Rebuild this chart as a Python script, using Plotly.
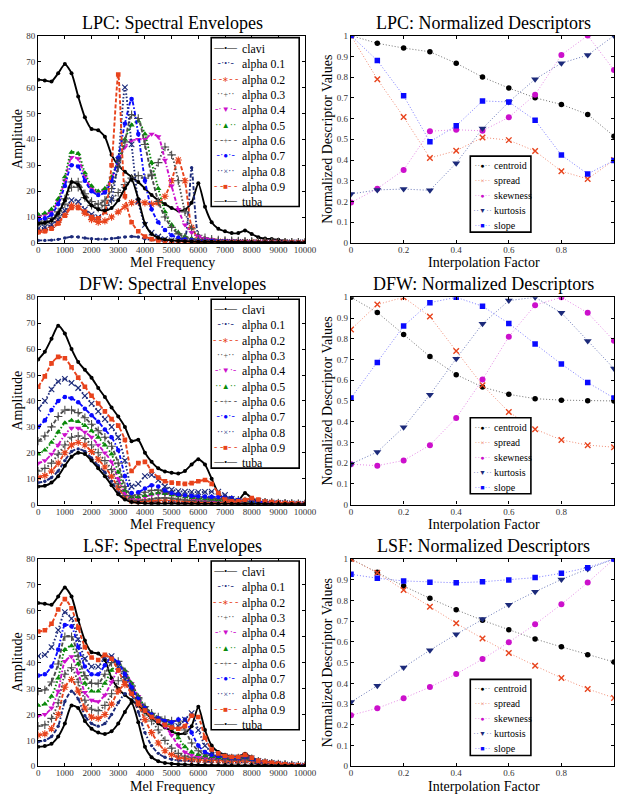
import plotly.graph_objects as go

# ---------------- data ----------------
MEL = [0, 250, 500, 750, 1000, 1250, 1500, 1750, 2000, 2250,
       2500, 2750, 3000, 3250, 3500, 3750, 4000, 4250, 4500, 4750,
       5000, 5250, 5500, 5750, 6000, 6250, 6500, 6750, 7000, 7250,
       7500, 7750, 8000, 8250, 8500, 8750, 9000, 9250, 9500, 9750, 10000]

ENV_LABELS = ["clavi", "alpha 0.1", "alpha 0.2", "alpha 0.3", "alpha 0.4", "alpha 0.5",
              "alpha 0.6", "alpha 0.7", "alpha 0.8", "alpha 0.9", "tuba"]

# clavi / tuba envelopes (LPC and LSF)
CLAVI = [63, 62.7, 62.3, 65.5, 69, 65.5, 56.5, 48.5, 44, 43.5,
         41, 34, 30, 27.5, 25.5, 23.5, 21, 18.5, 16.5, 15,
         13.5, 12.5, 12.8, 15.5, 23, 14, 8, 5.5, 4.5, 3.8,
         3.8, 4.8, 3.5, 2.2, 1.7, 1.5, 1.2, 0.8, 0.5, 0.3, 0.2]
TUBA = [7.5, 7.8, 8.7, 11.5, 16.5, 23.5, 22.5, 17.5, 14.5, 13,
        12.5, 13.5, 16.5, 21, 24.5, 17, 7.5, 3.5, 2, 1.3,
        1, 0.8, 0.7, 0.6, 0.5, 0.5, 0.45, 0.4, 0.4, 0.35,
        0.35, 0.35, 0.3, 0.3, 0.3, 0.25, 0.25, 0.2, 0.2, 0.2, 0.2]

# LPC interpolations
LPC_A01 = [1, 1, 1.1, 1.4, 1.9, 2.4, 2.3, 1.9, 1.6, 1.5,
           1.5, 1.7, 2.0, 2.3, 2.5, 2.3, 1.6, 1.2, 1.0, 0.9,
           0.8, 0.8, 2.0, 29, 3.0, 1.2, 0.8, 0.6, 0.5, 0.5,
           0.5, 0.5, 0.4, 0.4, 0.4, 0.3, 0.3, 0.3, 0.3, 0.2, 0.2]
LPC_A02 = [4.5, 5, 6, 8, 11, 14.5, 14, 11.5, 9, 8,
           8.5, 10, 12, 14, 15.5, 15.8, 15.5, 15, 15.5, 18,
           24, 32, 24, 6, 2, 1.2, 0.9, 0.7, 0.6, 0.5,
           0.5, 0.45, 0.4, 0.4, 0.35, 0.3, 0.3, 0.3, 0.25, 0.2, 0.2]
LPC_A03 = [7, 7.3, 8.2, 10.5, 15, 21.5, 21.5, 17.5, 14.5, 13.5,
           14.5, 16.5, 19.5, 22.5, 25, 26, 25, 26.5, 31, 37,
           34, 24, 12, 5.5, 3, 2, 1.5, 1.2, 1, 0.9,
           0.8, 0.7, 0.6, 0.5, 0.5, 0.4, 0.4, 0.3, 0.3, 0.25, 0.2]
LPC_A04 = [10.3, 10.8, 12.3, 16, 24, 33, 32.5, 25.5, 21, 19.5,
           20.5, 25, 31.5, 37, 39.5, 40, 40, 42, 41, 32,
           22, 13, 7, 4, 2.5, 1.7, 1.3, 1, 0.9, 0.8,
           0.7, 0.6, 0.5, 0.5, 0.4, 0.4, 0.3, 0.3, 0.3, 0.25, 0.2]
LPC_A05 = [11, 11.5, 13, 17, 25.5, 35, 34.5, 27, 22, 20,
           21, 25.5, 32, 40, 45.5, 47, 42, 31, 21, 12,
           7, 4, 2.5, 1.7, 1.2, 1, 0.8, 0.7, 0.6, 0.5,
           0.5, 0.4, 0.4, 0.35, 0.3, 0.3, 0.3, 0.25, 0.25, 0.2, 0.2]
LPC_A06 = [8, 8.5, 9.5, 12, 17, 23.5, 23.5, 19, 16, 15,
           16.5, 21, 29, 39, 49.5, 48, 38, 26, 16, 10,
           6, 3.5, 2.2, 1.6, 1.2, 1, 0.8, 0.7, 0.6, 0.5,
           0.5, 0.4, 0.4, 0.35, 0.3, 0.3, 0.3, 0.25, 0.25, 0.2, 0.2]
LPC_A07 = [9, 9.5, 11, 15, 22, 30, 29.5, 24, 20, 18.5,
           19.5, 24, 33, 46, 55.5, 42, 24, 13, 8, 5,
           3, 2, 1.3, 1, 0.8, 0.7, 0.6, 0.5, 0.5, 0.4,
           0.4, 0.35, 0.3, 0.3, 0.3, 0.25, 0.25, 0.2, 0.2, 0.2, 0.2]
LPC_A08 = [5.5, 6, 7, 9, 12.5, 16.5, 16, 13, 11, 10,
           12, 17, 32, 60, 38, 16, 7, 4, 2.5, 1.5,
           1, 0.8, 0.6, 0.5, 0.5, 0.4, 0.4, 0.35, 0.3, 0.3,
           0.3, 0.3, 0.25, 0.25, 0.25, 0.2, 0.2, 0.2, 0.2, 0.2, 0.2]
LPC_A09 = [4.2, 4.5, 5.5, 7.5, 10.5, 13.5, 13.5, 12, 10, 9.5,
           12, 30, 65, 18, 8, 4.5, 2.5, 1.5, 1, 0.8,
           0.6, 0.5, 0.5, 0.4, 0.4, 0.35, 0.3, 0.3, 0.3, 0.25,
           0.25, 0.25, 0.2, 0.2, 0.2, 0.2, 0.2, 0.2, 0.2, 0.2, 0.2]

# DFW interpolations
DFW_CLAVI = [56, 59, 64, 69, 66, 60, 55, 52, 49, 45,
             41.5, 37.5, 34, 30, 24.5, 25, 20, 16.5, 14, 12.8,
             12.3, 12, 13, 15.5, 17.5, 15.5, 10, 4.5, 2, 1.2,
             1.5, 4.5, 2.5, 1.2, 1, 0.9, 0.7, 0.55, 0.4, 0.3, 0.2]
DFW_TUBA = [7, 7.3, 8.5, 11, 15, 18.5, 20, 19.5, 17, 14,
            11, 7.5, 4, 2, 1, 0.7, 0.5, 0.45, 0.4, 0.4,
            0.4, 0.35, 0.35, 0.35, 0.3, 0.3, 0.3, 0.3, 0.3, 0.3,
            0.25, 0.25, 0.25, 0.25, 0.25, 0.2, 0.2, 0.2, 0.2, 0.2, 0.2]
DFW_A01 = [8.5, 9, 10.5, 13, 17, 20.5, 21.5, 20.5, 18, 15,
           12.5, 9, 5, 2.5, 1.3, 1, 1, 1.1, 1.2, 1.1,
           1, 0.9, 0.8, 0.75, 0.7, 0.65, 0.6, 0.6, 0.6, 0.55,
           0.55, 0.5, 0.5, 0.45, 0.45, 0.4, 0.4, 0.35, 0.3, 0.25, 0.2]
DFW_A02 = [10.5, 11.2, 13, 16, 20, 23, 24, 23, 20.5, 17.5,
           14.5, 11, 6.5, 3, 1.5, 1.2, 1.3, 1.5, 1.6, 1.7,
           1.6, 1.4, 1.2, 1.1, 1, 0.95, 0.9, 0.85, 0.8, 0.75,
           0.7, 0.7, 0.65, 0.6, 0.55, 0.5, 0.45, 0.4, 0.35, 0.3, 0.2]
DFW_A03 = [13, 14, 16, 19.5, 23, 26, 26.5, 25.5, 23, 20,
           17, 13.5, 8, 3.5, 1.8, 1.6, 1.8, 2.2, 2.5, 2.6,
           2.4, 2.1, 1.8, 1.6, 1.4, 1.3, 1.25, 1.2, 1.2, 1.15,
           1.1, 1, 0.9, 0.85, 0.8, 0.7, 0.6, 0.5, 0.4, 0.3, 0.25]
DFW_A04 = [16, 17, 19.5, 23, 27, 29.5, 29.5, 28, 26, 23,
           20, 16.5, 10, 4.5, 2.5, 2.5, 3, 3.8, 4.2, 4.3,
           4, 3.5, 3, 2.5, 2, 1.8, 1.6, 1.5, 1.4, 1.35,
           1.3, 1.2, 1.1, 1, 0.9, 0.8, 0.7, 0.55, 0.45, 0.35, 0.3]
DFW_A05 = [19.5, 21, 24, 28, 31.5, 32.5, 32, 30.5, 28.5, 26,
           23, 19.5, 12.5, 5.5, 3, 3, 3.5, 4.2, 4.5, 4.3,
           3.8, 3.4, 3, 2.7, 2.5, 2.2, 2, 1.8, 1.7, 1.6,
           1.5, 1.3, 1.1, 1, 0.9, 0.8, 0.7, 0.55, 0.45, 0.35, 0.3]
DFW_A06 = [24.5, 26.5, 30, 34, 36.5, 36.5, 35.5, 33.5, 31, 28.5,
           26, 22.5, 16, 7, 3.5, 3.8, 4.8, 5.5, 5.6, 5,
           4.2, 3.8, 3.5, 3.2, 3, 2.8, 2.5, 2.3, 2.2, 2,
           1.7, 1.4, 1.2, 1, 0.9, 0.8, 0.7, 0.55, 0.45, 0.35, 0.3]
DFW_A07 = [30, 32.5, 36.5, 40, 41.5, 41, 39.5, 37, 34.5, 32,
           29, 26, 21, 11, 4.5, 4.8, 6.2, 7.5, 7, 5.5,
           4.5, 4, 3.6, 3.4, 3.2, 3.1, 3, 3, 3, 2.5,
           1.8, 1.4, 1.2, 1.1, 1, 0.8, 0.7, 0.55, 0.45, 0.35, 0.3]
DFW_A08 = [37, 40, 44.5, 47.5, 48.5, 47, 45, 42, 39, 36,
           33, 30, 26, 17, 7, 8, 11, 11.5, 9.5, 7,
           5.8, 5.2, 5, 4.9, 4.8, 4.9, 5, 5, 3.8, 2.2,
           1.5, 1.2, 1.2, 1.4, 1, 0.8, 0.7, 0.55, 0.45, 0.35, 0.3]
DFW_A09 = [45.5, 49.5, 54.5, 57, 56.5, 53, 49, 45.5, 42, 39,
           36, 33, 30.5, 25, 13, 16, 16.5, 13, 10.5, 9,
           8.5, 8.2, 8, 8.3, 9, 9.5, 8, 4.5, 2, 1.3,
           1.3, 1.8, 2.5, 2, 1.2, 1, 0.8, 0.6, 0.5, 0.4, 0.3]

# LSF interpolations
LSF_A01 = [9.5, 10, 11.5, 15.5, 25, 29, 26, 19.5, 16.5, 15.5,
           16.5, 20, 24.5, 28, 27.5, 21, 13, 8, 5, 3.5,
           2.7, 2.3, 2.1, 2, 1.9, 1.8, 1.7, 1.6, 1.5, 1.5,
           1.5, 1.6, 1.4, 1.2, 1, 0.8, 0.6, 0.5, 0.35, 0.25, 0.2]
LSF_A02 = [12, 12.5, 14.5, 20, 30.5, 33.5, 29, 22.5, 19, 18.5,
           20, 24, 29, 31.5, 29.5, 24, 18, 13, 9, 6,
           4.5, 3.5, 3, 2.7, 2.5, 2.4, 2.3, 2.2, 2.1, 2,
           2, 2.2, 1.9, 1.5, 1.2, 0.9, 0.7, 0.55, 0.4, 0.3, 0.2]
LSF_A03 = [15.5, 16, 18.5, 24.5, 35.5, 38, 32.5, 25.5, 22, 21.5,
           23.5, 28, 33, 34.5, 31, 26, 21, 17.5, 14, 10,
           7, 5, 4, 3.5, 3.2, 3, 2.8, 2.7, 2.6, 2.5,
           2.5, 2.7, 2.3, 1.7, 1.3, 1, 0.8, 0.6, 0.45, 0.3, 0.25]
LSF_A04 = [19.5, 20, 22.5, 29, 40.5, 42.3, 36, 28.5, 25.5, 25,
           27.5, 32.5, 37, 36.5, 32, 27, 22.5, 19.5, 17.5, 15.5,
           12, 8, 5.5, 4.3, 3.8, 3.5, 3.3, 3.1, 2.9, 2.8,
           2.8, 3, 2.5, 1.8, 1.3, 1.1, 0.9, 0.7, 0.5, 0.35, 0.25]
LSF_A05 = [23.5, 24, 27, 34, 45, 46.5, 39.5, 32, 29, 29,
           32, 37, 39.5, 37, 32, 27, 23, 20.5, 18.5, 17.5,
           15, 11, 7.5, 5.5, 4.5, 4, 3.7, 3.4, 3.2, 3,
           3, 3.3, 2.7, 1.9, 1.4, 1.1, 0.9, 0.7, 0.5, 0.35, 0.25]
LSF_A06 = [29, 29.5, 32.5, 39.5, 50, 50, 42.5, 35, 32, 32,
           35.5, 40, 40.5, 36.5, 31, 26.5, 23, 20.5, 19, 18,
           17.5, 17.5, 14, 9, 6, 4.8, 4.2, 3.8, 3.4, 3.2,
           3.2, 3.6, 2.9, 2, 1.5, 1.2, 0.9, 0.7, 0.5, 0.35, 0.25]
LSF_A07 = [35, 35.5, 38.5, 45, 54.5, 54, 46, 38.5, 35.5, 35.5,
           39, 42, 40, 35.5, 30.5, 26, 22.5, 20, 18.5, 17.5,
           17, 18, 18, 13, 8, 5.5, 4.5, 4, 3.6, 3.3,
           3.3, 3.8, 3, 2, 1.5, 1.2, 1, 0.7, 0.5, 0.35, 0.25]
LSF_A08 = [42.5, 43, 46, 52.5, 59.5, 57, 49, 41.5, 38.5, 38.5,
           42, 42.5, 38.5, 33.5, 29, 25, 22, 19.5, 18, 16.5,
           15.5, 15.5, 18, 20.5, 14, 8, 5.5, 4.5, 3.8, 3.4,
           3.4, 4, 3.1, 2.1, 1.6, 1.3, 1, 0.7, 0.5, 0.35, 0.25]
LSF_A09 = [52, 52.5, 55, 60.5, 64.5, 61, 53.5, 46, 42, 41,
           43, 41.5, 37, 32, 28, 24.5, 21.5, 19, 17.5, 16,
           15, 14.5, 15.5, 19.5, 19, 11, 6.5, 5, 4, 3.6,
           3.6, 4.4, 3.3, 2.2, 1.7, 1.4, 1.1, 0.8, 0.5, 0.35, 0.25]

# normalized descriptors
FACTOR = [0, 0.1, 0.2, 0.3, 0.4, 0.5, 0.6, 0.7, 0.8, 0.9, 1.0]
DESC_LABELS = ["centroid", "spread", "skewness", "kurtosis", "slope"]

LPC_CENTROID = [1.0, 0.963, 0.94, 0.922, 0.867, 0.80, 0.747, 0.70, 0.668, 0.62, 0.515]
LPC_SPREAD = [1.0, 0.79, 0.608, 0.41, 0.445, 0.509, 0.496, 0.443, 0.346, 0.309, 0.40]
LPC_SKEWNESS = [0.195, 0.262, 0.352, 0.539, 0.546, 0.541, 0.606, 0.715, 0.907, 1.0, 0.834]
LPC_KURTOSIS = [0.236, 0.256, 0.26, 0.254, 0.385, 0.552, 0.68, 0.79, 0.867, 0.906, 1.0]
LPC_SLOPE = [1.0, 0.88, 0.71, 0.488, 0.565, 0.685, 0.68, 0.592, 0.424, 0.333, 0.398]

DFW_CENTROID = [1.0, 0.927, 0.821, 0.714, 0.627, 0.567, 0.532, 0.511, 0.504, 0.501, 0.50]
DFW_SPREAD = [0.845, 0.965, 1.0, 0.907, 0.741, 0.576, 0.447, 0.364, 0.312, 0.287, 0.277]
DFW_SKEWNESS = [0.195, 0.188, 0.213, 0.287, 0.418, 0.603, 0.81, 0.962, 1.0, 0.925, 0.79]
DFW_KURTOSIS = [0.196, 0.254, 0.373, 0.53, 0.704, 0.872, 0.984, 1.0, 0.925, 0.789, 0.656]
DFW_SLOPE = [0.514, 0.686, 0.861, 0.974, 1.0, 0.957, 0.874, 0.775, 0.678, 0.589, 0.514]

LSF_CENTROID = [1.0, 0.936, 0.869, 0.81, 0.755, 0.704, 0.658, 0.614, 0.576, 0.538, 0.503]
LSF_SPREAD = [1.0, 0.933, 0.85, 0.77, 0.69, 0.616, 0.547, 0.485, 0.426, 0.373, 0.33]
LSF_SKEWNESS = [0.246, 0.28, 0.328, 0.382, 0.445, 0.517, 0.598, 0.685, 0.781, 0.886, 1.0]
LSF_KURTOSIS = [0.31, 0.389, 0.477, 0.56, 0.637, 0.71, 0.779, 0.842, 0.901, 0.952, 1.0]
LSF_SLOPE = [0.926, 0.907, 0.894, 0.888, 0.885, 0.89, 0.899, 0.91, 0.931, 0.958, 1.0]

ENV_TICKS_X = [0, 1000, 2000, 3000, 4000, 5000, 6000, 7000, 8000, 9000, 10000]
ENV_TICKS_Y = [0, 10, 20, 30, 40, 50, 60, 70, 80]
DESC_TICKS_X = [0, 0.2, 0.4, 0.6, 0.8]
DESC_TICKS_Y = [0, 0.1, 0.2, 0.3, 0.4, 0.5, 0.6, 0.7, 0.8, 0.9, 1]

PANELS = [
    ("LPC", [CLAVI, LPC_A01, LPC_A02, LPC_A03, LPC_A04, LPC_A05, LPC_A06, LPC_A07, LPC_A08, LPC_A09, TUBA],
     [LPC_CENTROID, LPC_SPREAD, LPC_SKEWNESS, LPC_KURTOSIS, LPC_SLOPE]),
    ("DFW", [DFW_CLAVI, DFW_A01, DFW_A02, DFW_A03, DFW_A04, DFW_A05, DFW_A06, DFW_A07, DFW_A08, DFW_A09, DFW_TUBA],
     [DFW_CENTROID, DFW_SPREAD, DFW_SKEWNESS, DFW_KURTOSIS, DFW_SLOPE]),
    ("LSF", [CLAVI, LSF_A01, LSF_A02, LSF_A03, LSF_A04, LSF_A05, LSF_A06, LSF_A07, LSF_A08, LSF_A09, TUBA],
     [LSF_CENTROID, LSF_SPREAD, LSF_SKEWNESS, LSF_KURTOSIS, LSF_SLOPE]),
]

# ---------------- styling ----------------
W, H = 626, 796
FONT = "Liberation Serif"
NAVY = "#1c2a7a"
RED = "#e8431c"
GRAY = "#4d4d4d"
MAG = "#cc10cc"
GREEN = "#0a8a0a"
BLUE = "#0a0aff"

DASH = {"solid": "solid", "dash": "4px,2px", "dot": "1.5px,2px", "dashdot": "4px,2px,1.5px,2px"}
SEG = {"solid": ("—", "—"), "dash": ("- -", "- -"), "dot": ("··", "··"), "dashdot": ("-·", "·-")}

ENV_STYLE = [
    dict(color="#000000", dash="solid", symbol="circle", size=4, glyph="•"),
    dict(color=NAVY, dash="dashdot", symbol="circle", size=3.4, glyph="•"),
    dict(color=RED, dash="dash", symbol="asterisk-open", size=6, glyph="∗"),
    dict(color=GRAY, dash="dot", symbol="cross-thin-open", size=6, glyph="+"),
    dict(color=MAG, dash="dashdot", symbol="triangle-down", size=5.5, glyph="▼"),
    dict(color=GREEN, dash="dot", symbol="triangle-up", size=5.5, glyph="▲"),
    dict(color=GRAY, dash="dash", symbol="cross-thin-open", size=6, glyph="+"),
    dict(color=BLUE, dash="dashdot", symbol="circle", size=4.6, glyph="●"),
    dict(color=NAVY, dash="dot", symbol="x-thin-open", size=5.5, glyph="×"),
    dict(color=RED, dash="dash", symbol="square", size=4.6, glyph="■"),
    dict(color="#000000", dash="solid", symbol="circle", size=4, glyph="•"),
]
DESC_STYLE = [
    dict(color="#000000", line="#707070", symbol="circle", size=5.5, glyph="●"),
    dict(color=RED, line="#f08c74", symbol="x-thin-open", size=5.5, glyph="×"),
    dict(color=MAG, line="#e58ae5", symbol="circle", size=6, glyph="●"),
    dict(color=NAVY, line="#6a78b8", symbol="triangle-down", size=7, glyph="▼"),
    dict(color=BLUE, line="#7a7aff", symbol="square", size=5.5, glyph="■"),
]

LEFT_X = (37, 310)
RIGHT_X = (357, 626)
ROW_Y = [(31, 241), (296, 506), (561, 771)]


def fx(p):
    return p / W


def fy(p):
    return 1 - p / H


def label(text, x, y, size, angle=0):
    return dict(text=text, x=fx(x), y=fy(y), xref="paper", yref="paper",
                xanchor="center", yanchor="middle", showarrow=False, textangle=angle,
                font=dict(family=FONT, size=size, color="#000"))


fig = go.Figure()
annotations = []
shapes = []
layout_axes = {}

for r, (name, env, desc) in enumerate(PANELS):
    top, bot = ROW_Y[r]
    li = 2 * r + 1
    ri = 2 * r + 2
    lx, ly = ("x" if li == 1 else f"x{li}"), ("y" if li == 1 else f"y{li}")
    rx, ry = f"x{ri}", f"y{ri}"

    # envelopes
    for lab, ys, st in zip(ENV_LABELS, env, ENV_STYLE):
        is_open = st["symbol"].endswith("open")
        fig.add_trace(go.Scatter(
            x=MEL, y=ys, name=lab, xaxis=lx, yaxis=ly, mode="lines+markers",
            showlegend=False,
            line=dict(color=st["color"], width=1.9, dash=DASH[st["dash"]],
                      shape="spline", smoothing=0.6),
            marker=dict(symbol=st["symbol"], size=st["size"], color=st["color"],
                        line=dict(color=st["color"], width=1.1 if is_open else 0)),
        ))
    # descriptors
    for lab, ys, st in zip(DESC_LABELS, desc, DESC_STYLE):
        is_open = st["symbol"].endswith("open")
        fig.add_trace(go.Scatter(
            x=FACTOR, y=ys, name=lab, xaxis=rx, yaxis=ry, mode="lines+markers",
            showlegend=False,
            line=dict(color=st["line"], width=1, dash="1px,2px"),
            marker=dict(symbol=st["symbol"], size=st["size"], color=st["color"],
                        line=dict(color=st["color"], width=1.4 if is_open else 0)),
        ))

    axis_common = dict(showgrid=False, zeroline=False, showline=True, linecolor="#000",
                       linewidth=1.3, mirror="ticks", ticks="inside", ticklen=3,
                       tickcolor="#000", tickwidth=1,
                       tickfont=dict(family=FONT, size=9, color="#333"))
    ydom = [fy(bot), fy(top)]
    layout_axes["xaxis" if li == 1 else f"xaxis{li}"] = dict(
        axis_common, domain=[fx(LEFT_X[0]), fx(LEFT_X[1])], range=[0, 10000],
        tickvals=ENV_TICKS_X, ticktext=[str(v) for v in ENV_TICKS_X], anchor=ly,
        ticklabelstandoff=-2)
    layout_axes["yaxis" if li == 1 else f"yaxis{li}"] = dict(
        axis_common, domain=ydom, range=[0, 80],
        tickvals=ENV_TICKS_Y, ticktext=[str(v) for v in ENV_TICKS_Y], anchor=lx)
    layout_axes[f"xaxis{ri}"] = dict(
        axis_common, domain=[fx(RIGHT_X[0]), 1.0], range=[0, 1],
        tickvals=DESC_TICKS_X, ticktext=["0", "0.2", "0.4", "0.6", "0.8"], anchor=ry,
        ticklabelstandoff=-2)
    layout_axes[f"yaxis{ri}"] = dict(
        axis_common, domain=ydom, range=[0, 1],
        tickvals=DESC_TICKS_Y, ticktext=["0", "0.1", "0.2", "0.3", "0.4", "0.5", "0.6",
                                         "0.7", "0.8", "0.9", "1"], anchor=rx)

    # titles
    annotations.append(label(f"{name}: Spectral Envelopes", 174, top - 13, 18))
    annotations.append(label(f"{name}: Normalized Descriptors", 493, top - 13, 18))
    annotations.append(label("Mel Frequency", 174, bot + 20, 14))
    annotations.append(label("Interpolation Factor", 493, bot + 20, 14))
    annotations.append(label("Amplitude", 16, (top + bot) / 2, 14, -90))
    annotations.append(label("Normalized Descriptor Values", 333, (top + bot) / 2, 14, -90))

    # envelope legend box
    shapes.append(dict(type="rect", xref="paper", yref="paper", layer="above",
                       x0=fx(214), x1=fx(304), y0=fy(top + 173), y1=fy(top + 2),
                       line=dict(color="#000", width=1.6), fillcolor="#fff"))
    samples = []
    for st in ENV_STYLE:
        a, b = SEG[st["dash"]]
        samples.append(f"<span style='color:{st['color']};font-size:10px'>{a}</span>"
                       f"<span style='color:{st['color']};font-size:8px'>{st['glyph']}</span>"
                       f"<span style='color:{st['color']};font-size:10px'>{b}</span>")
    annotations.append(dict(text="<br>".join(samples), x=fx(229), y=fy(top + 4),
                            xanchor="center", yanchor="top", align="center",
                            xref="paper", yref="paper", showarrow=False,
                            font=dict(family=FONT, size=11.8, color="#000")))
    annotations.append(dict(text="<br>".join(ENV_LABELS), x=fx(243), y=fy(top + 4),
                            xanchor="left", yanchor="top", align="left",
                            xref="paper", yref="paper", showarrow=False,
                            font=dict(family=FONT, size=11.8, color="#000")))

    # descriptor legend box
    shapes.append(dict(type="rect", xref="paper", yref="paper", layer="above",
                       x0=fx(479), x1=fx(541), y0=fy(top + 199), y1=fy(top + 122),
                       line=dict(color="#000", width=1.6), fillcolor="#fff"))
    dsamples = []
    for st in DESC_STYLE:
        dsamples.append(f"<span style='color:{st['line']};font-size:9px'>··</span>"
                        f"<span style='color:{st['color']};font-size:7px'>{st['glyph']}</span>"
                        f"<span style='color:{st['line']};font-size:9px'>··</span>")
    annotations.append(dict(text="<br>".join(dsamples), x=fx(491), y=fy(top + 124),
                            xanchor="center", yanchor="top", align="center",
                            xref="paper", yref="paper", showarrow=False,
                            font=dict(family=FONT, size=11.5, color="#000")))
    annotations.append(dict(text="<br>".join(f"<span style='font-size:10px'>{t}</span>"
                                             for t in DESC_LABELS),
                            x=fx(501), y=fy(top + 124),
                            xanchor="left", yanchor="top", align="left",
                            xref="paper", yref="paper", showarrow=False,
                            font=dict(family=FONT, size=11.5, color="#000")))

fig.update_layout(
    width=W, height=H, autosize=False,
    margin=dict(l=0, r=0, t=0, b=0, pad=0),
    paper_bgcolor="#fff", plot_bgcolor="#fff",
    showlegend=False,
    font=dict(family=FONT, color="#000"),
    annotations=annotations, shapes=shapes,
    **layout_axes,
)

fig.write_html("out.html", config={"displayModeBar": False},
               post_script="document.body.style.margin='0px';")
